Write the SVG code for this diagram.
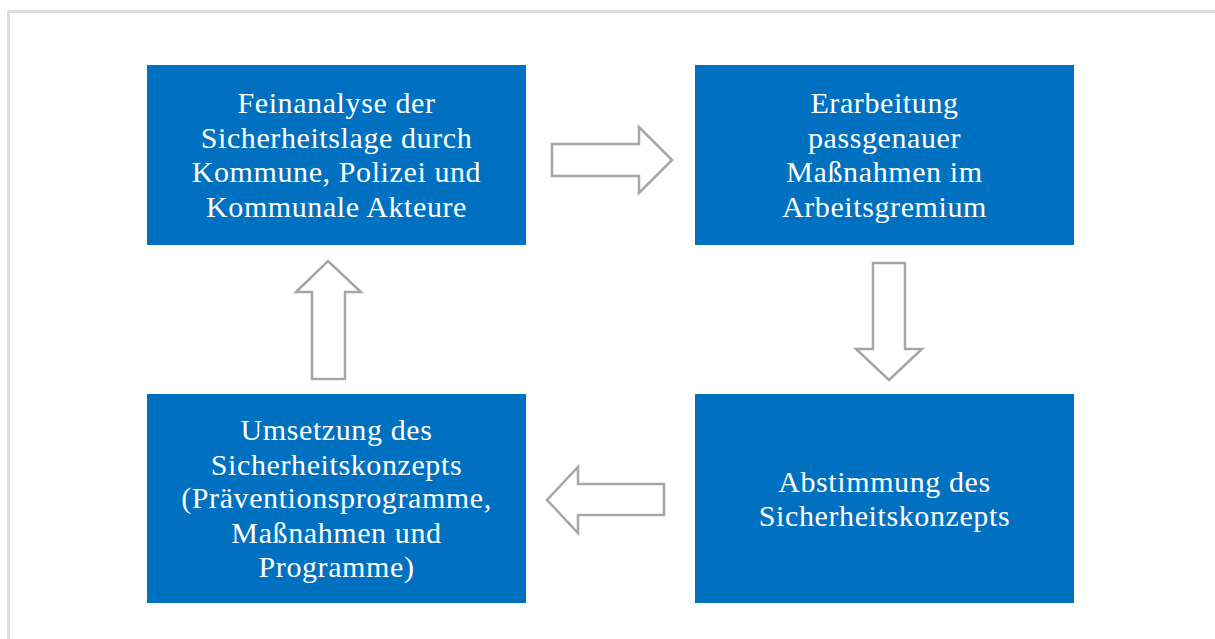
<svg xmlns="http://www.w3.org/2000/svg" width="1215" height="639" viewBox="0 0 1215 639">
<style>
.box{fill:#0070C0}
.lbl{font-family:"Liberation Serif","Times New Roman",serif;font-size:30px;letter-spacing:0.6px;fill:#ffffff;text-anchor:middle}
.arr{fill:#ffffff;stroke:#a6a6a6;stroke-width:2.5;stroke-linejoin:miter}
</style>
<rect x="0" y="0" width="1215" height="639" fill="#ffffff"/>
<rect x="8.5" y="11.5" width="1230" height="650" fill="none" stroke="#dddddd" stroke-width="3"/>
<g id="node1">
<rect class="box" x="147" y="65" width="379" height="180"/>
<text class="lbl"><tspan x="336.5" y="113">Feinanalyse der</tspan><tspan x="336.5" y="148">Sicherheitslage durch</tspan><tspan x="336.5" y="182">Kommune, Polizei und</tspan><tspan x="336.5" y="217">Kommunale Akteure</tspan></text>
</g>
<g id="node2">
<rect class="box" x="695" y="65" width="379" height="180"/>
<text class="lbl"><tspan x="884.5" y="113">Erarbeitung</tspan><tspan x="884.5" y="148">passgenauer</tspan><tspan x="884.5" y="182">Maßnahmen im</tspan><tspan x="884.5" y="217">Arbeitsgremium</tspan></text>
</g>
<g id="node3">
<rect class="box" x="695" y="394" width="379" height="209"/>
<text class="lbl"><tspan x="884.5" y="492">Abstimmung des</tspan><tspan x="884.5" y="526">Sicherheitskonzepts</tspan></text>
</g>
<g id="node4">
<rect class="box" x="147" y="394" width="379" height="209"/>
<text class="lbl"><tspan x="336.5" y="440">Umsetzung des</tspan><tspan x="336.5" y="475">Sicherheitskonzepts</tspan><tspan x="336.5" y="508">(Präventionsprogramme,</tspan><tspan x="336.5" y="543">Maßnahmen und</tspan><tspan x="336.5" y="577">Programme)</tspan></text>
</g>
<g id="connectors">
<polygon class="arr" points="552,144 639,144 639,127 672,160 639,193 639,176 552,176"/>
<polygon class="arr" points="873,263 905,263 905,349 922,349 889,380 856,349 873,349"/>
<polygon class="arr" points="664,484 578,484 578,467 547,500 578,533 578,515 664,515"/>
<polygon class="arr" points="312,379 345,379 345,292 361,292 328,261 296,292 312,292"/>
</g>
</svg>
